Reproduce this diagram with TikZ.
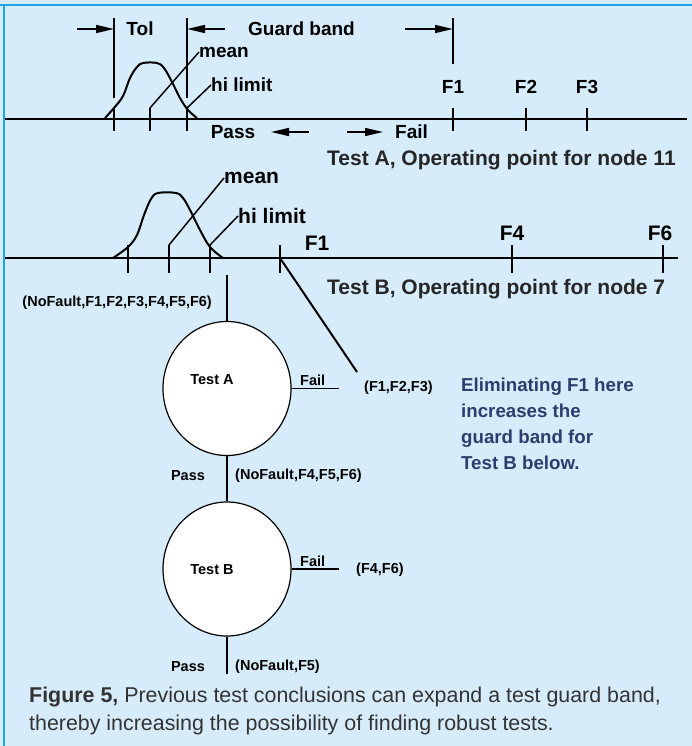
\documentclass[tikz,border=0pt]{standalone}
\usepackage{fontspec}
\setmainfont{Liberation Sans}
\usepackage{tikz}
\usetikzlibrary{arrows.meta, positioning, shapes.geometric, calc}
\definecolor{bgblue}{HTML}{D6ECFA}
\definecolor{edgeblue}{HTML}{1CA6E4}
\definecolor{noteblue}{HTML}{2E3D6E}
\definecolor{capgray}{HTML}{333333}

\begin{document}
\begin{tikzpicture}[x=1pt, y=-1pt,
    lbl/.style={font=\bfseries\fontsize{19}{19}\selectfont, inner sep=0},
    blbl/.style={font=\bfseries\fontsize{21}{21}\selectfont, inner sep=0},
    tlbl/.style={font=\bfseries\fontsize{14.5}{14.5}\selectfont, inner sep=0},
    ax/.style={line width=2pt},
    tk/.style={line width=2pt},
    ldr/.style={line width=1.5pt},
    arr/.style={-{Triangle[length=18pt, width=8pt]}, line width=1.5pt},
    tst/.style={ellipse, draw, line width=1.2pt, fill=white, minimum width=128pt, minimum height=134pt, inner sep=0},
    bell/.style={line width=2pt, line join=round}
]
\useasboundingbox (0,0) rectangle (692,746);
\fill[bgblue] (0,0) rectangle (692,746);
\draw[edgeblue, line width=2.5pt] (0,5) -- (692,5);
\draw[edgeblue, line width=2.5pt] (4,5) -- (4,746);

% Test A operating point
\coordinate (a0) at (5,119);
\coordinate (a1) at (687,119);
\draw[ax] (a0) -- (a1);
\foreach \x in {114,150,187,453,526,587}
  \draw[tk] (\x,108) -- (\x,131);
\draw[tk] (114,18) -- (114,98);
\draw[tk] (187,18) -- (187,98);
\draw[tk] (453,18) -- (453,64);
\draw[bell] plot[smooth, tension=0.6] coordinates {(105,118) (114,108) (123,96) (130,78) (137,67) (143,63) (157,63) (164,68) (172,82) (180,98) (188,110) (197,118)};

\coordinate (tolL) at (77,29);
\coordinate (tolR) at (114,29);
\coordinate (gbL) at (225,29);
\coordinate (gbR) at (187,29);
\coordinate (gbF) at (405,29);
\coordinate (gbF1) at (453,29);
\draw[arr] (tolL) -- (tolR);
\draw[arr] (gbL) -- (gbR);
\draw[arr] (gbF) -- (gbF1);
\node[lbl] (tol) at (140,29) {Tol};
\node[lbl, anchor=west] (gband) at (248,29) {Guard band};

\coordinate (meanA0) at (150,108);
\coordinate (hiA0) at (187,108);
\node[lbl, anchor=west] (meanA) at (199,52) {mean};
\node[lbl, anchor=west] (hiA) at (211,85) {hi limit};
\draw[ldr] (meanA0) -- (meanA.west);
\draw[ldr] (hiA0) -- (hiA.west);

\node[lbl] (f1A) at (453,87) {F1};
\node[lbl] (f2A) at (526,87) {F2};
\node[lbl] (f3A) at (587,87) {F3};

\node[lbl] (passA) at (233,132) {Pass};
\coordinate (passR) at (309,132);
\coordinate (passL) at (271,132);
\draw[arr] (passR) -- (passL);
\coordinate (failL) at (347,132);
\coordinate (failR) at (383,132);
\draw[arr] (failL) -- (failR);
\node[lbl, anchor=west] (failA) at (395,132) {Fail};
\node[blbl, anchor=west, text=black!85] (titleA) at (327,160) {Test A, Operating point for node 11};

% Test B operating point
\coordinate (b0) at (5,258);
\coordinate (b1) at (678,258);
\draw[ax] (b0) -- (b1);
\foreach \x in {128,169,210,280,512,663}
  \draw[tk] (\x,245) -- (\x,273);
\draw[bell] plot[smooth, tension=0.6] coordinates {(113,258) (128,247) (137,235) (144,215) (151,199) (158,193) (176,193) (183,198) (190,210) (200,230) (210,247) (223,258)};

\coordinate (meanB0) at (169,245);
\coordinate (hiB0) at (210,245);
\node[blbl, anchor=west] (meanB) at (224,178) {mean};
\node[blbl, anchor=west] (hiB) at (238,216) {hi limit};
\draw[ldr] (meanB0) -- (meanB.west);
\draw[ldr] (hiB0) -- (hiB.west);

\node[blbl] (f1B) at (317,243) {F1};
\node[blbl] (f4B) at (512,233) {F4};
\node[blbl] (f6B) at (660,233) {F6};
\node[blbl, anchor=west, text=black!85] (titleB) at (327,289) {Test B, Operating point for node 7};

% decision tree
\node[tst] (testA) at (227,388.5) {};
\node[tst] (testB) at (227,569) {};
\node[tlbl] (testAlbl) at (212,380) {Test A};
\node[tlbl] (testBlbl) at (212,570) {Test B};

\coordinate (topA) at (227,275);
\node[tlbl, anchor=east] (allF) at (212,303) {(NoFault,F1,F2,F3,F4,F5,F6)};
\draw[ldr] (topA) -- (testA.north);

\coordinate (failAend) at (339,388.5);
\draw[ldr] (testA.east) -- (failAend);
\node[tlbl, anchor=west] (failAlbl) at (300,380) {Fail};
\node[tlbl, anchor=west] (f123) at (364,388) {(F1,F2,F3)};
\coordinate (f1Btick) at (280,258);
\coordinate (diagEnd) at (357,372);
\draw[ldr, line width=2pt] (f1Btick) -- (diagEnd);

\draw[ldr] (testA.south) -- (testB.north);
\node[tlbl] (passAlbl) at (188,476) {Pass};
\node[tlbl, anchor=west] (nf456) at (235,476) {(NoFault,F4,F5,F6)};

\coordinate (failBend) at (339,569);
\draw[ldr] (testB.east) -- (failBend);
\node[tlbl, anchor=west] (failBlbl) at (300,561) {Fail};
\node[tlbl, anchor=west] (f46) at (356,570) {(F4,F6)};

\coordinate (botB) at (227,674);
\draw[ldr] (testB.south) -- (botB);
\node[tlbl] (passBlbl) at (188,667) {Pass};
\node[tlbl, anchor=west] (nf5) at (235,667) {(NoFault,F5)};

\node[anchor=north west, align=left, inner sep=0, text=noteblue, font=\bfseries\fontsize{18.7}{26}\selectfont] (note) at (461,378)
  {Eliminating F1 here\\increases the\\guard band for\\Test B below.};

\node[anchor=west, align=left, inner sep=0, text=capgray, font=\fontsize{21.4}{28}\selectfont] (caption) at (29,711)
  {\textbf{Figure 5,} Previous test conclusions can expand a test guard band,\\thereby increasing the possibility of finding robust tests.};
\end{tikzpicture}
\end{document}
